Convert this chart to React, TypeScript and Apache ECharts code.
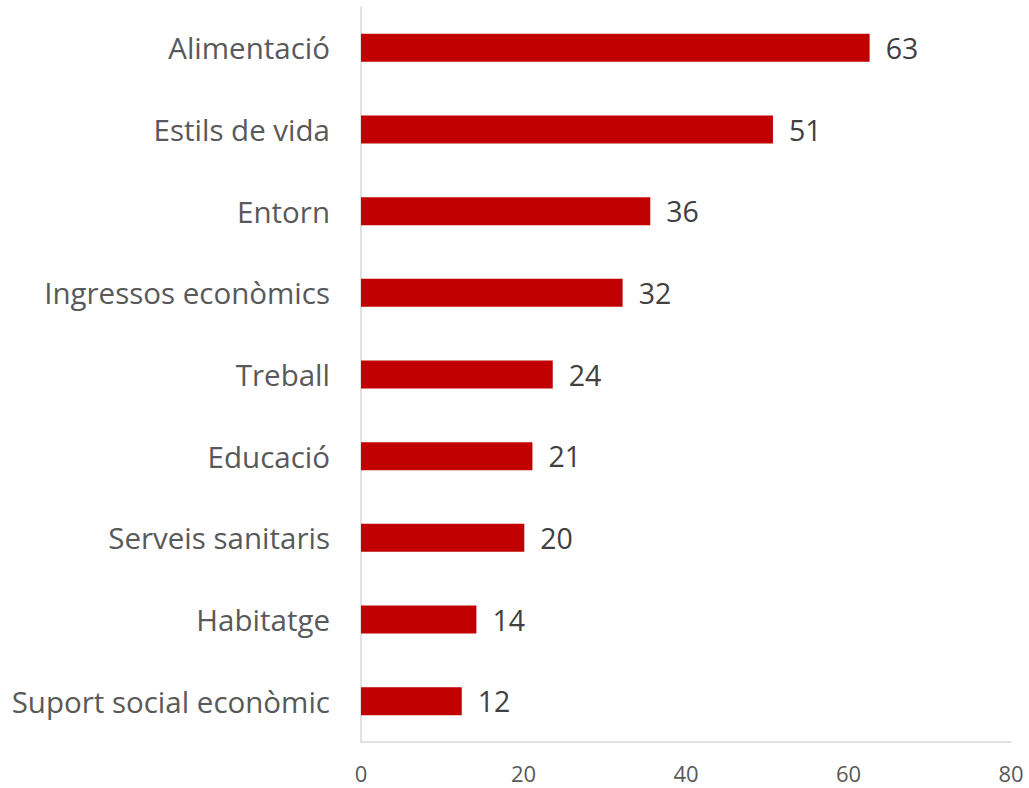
import React, { useEffect, useRef } from "react";
import * as echarts from "echarts";

const categories = [
  "Alimentació",
  "Estils de vida",
  "Entorn",
  "Ingressos econòmics",
  "Treball",
  "Educació",
  "Serveis sanitaris",
  "Habitatge",
  "Suport social econòmic",
];
const values = [62.6, 50.7, 35.6, 32.2, 23.6, 21.1, 20.1, 14.2, 12.4];
const xTicks = { min: 0, max: 80, interval: 20 };

export default function App() {
  const ref = useRef<HTMLDivElement>(null);
  useEffect(() => {
    if (!ref.current) return;
    const chart = echarts.init(ref.current, null, { renderer: "svg" });
    chart.setOption({
      animation: false,
      textStyle: { fontFamily: "Open Sans" },
      grid: { left: 361, right: 18, top: 7, bottom: 46, containLabel: false },
      xAxis: {
        type: "value",
        min: xTicks.min,
        max: xTicks.max,
        interval: xTicks.interval,
        axisLine: { show: true, lineStyle: { color: "#d9d9d9", width: 1.5 } },
        axisTick: { show: false },
        splitLine: { show: false },
        axisLabel: {
          color: "#595959",
          fontSize: 22,
          lineHeight: 24,
          margin: 19,
          fontFamily: "Open Sans",
        },
      },
      yAxis: {
        type: "category",
        data: categories,
        inverse: true,
        axisLine: { show: true, lineStyle: { color: "#d9d9d9", width: 1.5 } },
        axisTick: { show: false },
        axisLabel: { color: "#595959", fontSize: 29.5, margin: 31, fontFamily: "Open Sans" },
      },
      series: [
        {
          type: "bar",
          data: values,
          barWidth: 28,
          itemStyle: { color: "#c00000" },
          label: {
            show: true,
            position: "right",
            distance: 16,
            color: "#404040",
            fontSize: 28.5,
            fontFamily: "Open Sans",
            formatter: (p: any) => String(Math.round(p.value)),
          },
        },
      ],
    });
    return () => chart.dispose();
  }, []);
  return (
    <div
      ref={ref}
      style={{ position: "absolute", left: 0, top: 0, width: 1029, height: 788, background: "#fff" }}
    />
  );
}
